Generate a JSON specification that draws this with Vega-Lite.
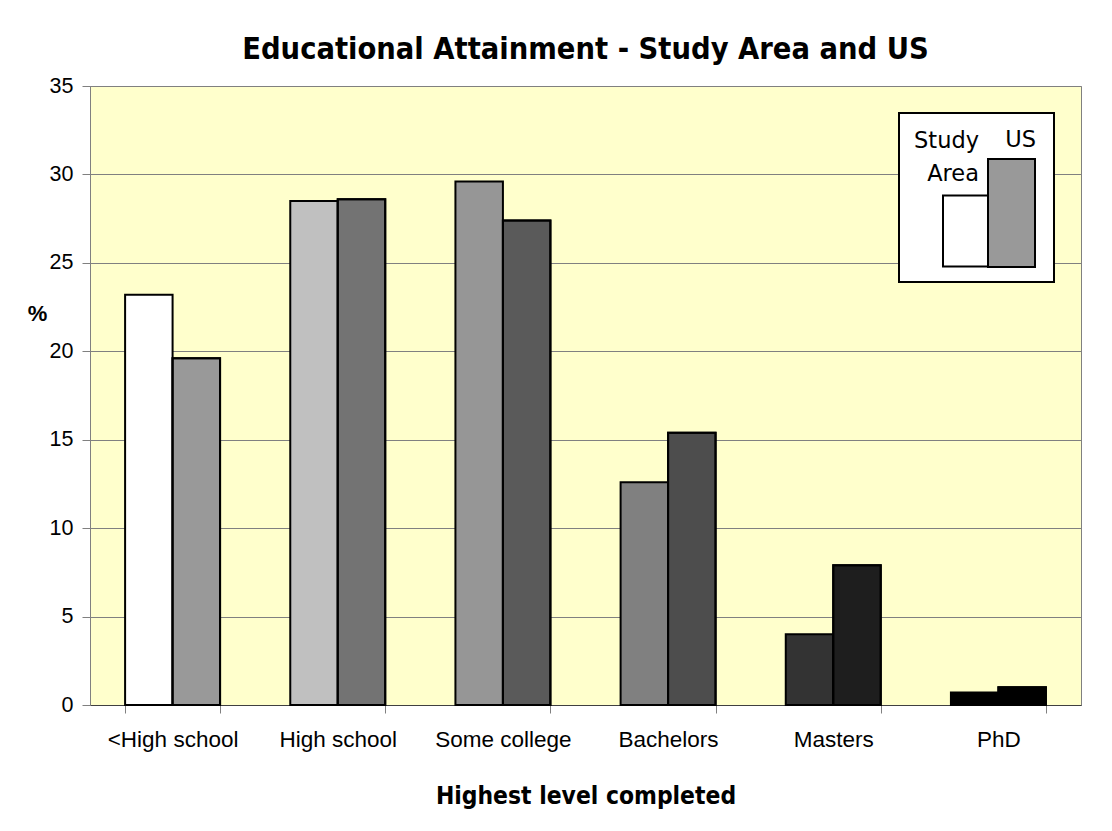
{
  "$schema": "https://vega.github.io/schema/vega-lite/v6.json",
  "width": 991,
  "height": 619,
  "autosize": {"type": "none"},
  "padding": {"left": 90, "top": 86, "right": 31, "bottom": 126},
  "background": "white",
  "title": {
    "text": "Educational Attainment - Study Area and US",
    "font": "DejaVu Sans Condensed, DejaVu Sans",
    "fontSize": 30.5,
    "fontWeight": "bold",
    "color": "black",
    "anchor": "middle",
    "frame": "group",
    "baseline": "alphabetic",
    "offset": -14
  },
  "data": {
    "values": [
      {"level": "<High school", "series": "Study Area", "value": 23.2},
      {"level": "<High school", "series": "US", "value": 19.6},
      {"level": "High school", "series": "Study Area", "value": 28.5},
      {"level": "High school", "series": "US", "value": 28.6},
      {"level": "Some college", "series": "Study Area", "value": 29.6},
      {"level": "Some college", "series": "US", "value": 27.4},
      {"level": "Bachelors", "series": "Study Area", "value": 12.6},
      {"level": "Bachelors", "series": "US", "value": 15.4},
      {"level": "Masters", "series": "Study Area", "value": 4.0},
      {"level": "Masters", "series": "US", "value": 7.9},
      {"level": "PhD", "series": "Study Area", "value": 0.7},
      {"level": "PhD", "series": "US", "value": 1.0}
    ]
  },
  "encoding": {
    "x": {
      "field": "level",
      "type": "nominal",
      "sort": null,
      "title": "Highest level completed",
      "scale": {"paddingInner": 0.425, "paddingOuter": 0.2125},
      "axis": {
        "tickBand": "extent",
        "labelAngle": 0,
        "labelFont": "Liberation Sans",
        "labelFontSize": 22.5,
        "labelColor": "black",
        "labelPadding": 15,
        "tickSize": 8,
        "tickColor": "#808080",
        "domainColor": "#404040",
        "grid": false,
        "titleFont": "DejaVu Sans Condensed, DejaVu Sans",
        "titleFontSize": 24.4,
        "titleFontWeight": "bold",
        "titleColor": "black",
        "titleY": 98,
        "titleBaseline": "alphabetic"
      }
    },
    "xOffset": {
      "field": "series",
      "type": "nominal",
      "scale": {"domain": ["Study Area", "US"], "paddingInner": 0, "paddingOuter": 0}
    },
    "y": {
      "field": "value",
      "type": "quantitative",
      "title": "%",
      "scale": {"domain": [0, 35], "nice": false},
      "axis": {
        "values": [0, 5, 10, 15, 20, 25, 30, 35],
        "grid": true,
        "gridColor": "#808080",
        "gridWidth": 1,
        "domainColor": "#808080",
        "tickColor": "#808080",
        "tickSize": 8,
        "labelFont": "Liberation Sans",
        "labelFontSize": 21.5,
        "labelColor": "black",
        "labelPadding": 9,
        "titleAngle": 0,
        "titleX": -53,
        "titleY": 227,
        "titleAlign": "center",
        "titleBaseline": "middle",
        "titleFont": "Liberation Sans",
        "titleFontSize": 22,
        "titleFontWeight": "bold",
        "titleColor": "black"
      }
    }
  },
  "layer": [
    {
      "mark": {"type": "bar", "stroke": "black", "strokeWidth": 2},
      "encoding": {
        "fill": {
          "field": "level",
          "type": "nominal",
          "scale": {
            "domain": ["<High school", "High school", "Some college", "Bachelors", "Masters", "PhD"],
            "range": ["#ffffff", "#c0c0c0", "#969696", "#808080", "#333333", "#000000"]
          },
          "legend": null
        }
      }
    },
    {
      "transform": [{"filter": "datum.series === 'US'"}],
      "mark": {"type": "bar", "fill": "black", "fillOpacity": 0.4, "stroke": "black", "strokeWidth": 2}
    },
    {
      "mark": {"type": "point", "filled": true, "size": 0, "opacity": 0},
      "encoding": {
        "fill": {
          "field": "series",
          "type": "nominal",
          "scale": {"domain": ["Study Area", "US"], "range": ["#ffffff", "#999999"]},
          "legend": {
            "title": null,
            "orient": "top-right",
            "offset": 27,
            "direction": "horizontal",
            "fillColor": "white",
            "strokeColor": "black",
            "padding": 11,
            "columnPadding": -13,
            "labelFont": "DejaVu Sans",
            "labelFontSize": 22.5,
            "labelColor": "black",
            "labelAlign": "right",
            "labelBaseline": "top",
            "labelLimit": 0,
            "labelExpr": "datum.label === 'Study Area' ? ['Study', 'Area'] : datum.label",
            "symbolSize": 4,
            "symbolStrokeColor": "black",
            "symbolStrokeWidth": 2,
            "encode": {
              "legend": {"update": {"strokeWidth": {"value": 2}}},
              "symbols": {
                "update": {
                  "x": {"signal": "datum.value === 'US' ? 56 : 0"},
                  "y": {"value": 0},
                  "size": {"value": 4},
                  "opacity": {"value": 1},
                  "stroke": {"value": "black"},
                  "strokeWidth": {"value": 2},
                  "shape": {"signal": "datum.value === 'US' ? 'M-60,35H-13V143H-60Z M-9,35' : 'M33,71H78V142H33Z'"}
                }
              },
              "labels": {
                "update": {
                  "x": {"signal": "datum.value === 'US' ? 44 : 69"},
                  "y": {"value": 5},
                  "lineHeight": {"value": 33}
                }
              }
            }
          }
        }
      }
    }
  ],
  "resolve": {"scale": {"fill": "independent"}},
  "config": {
    "view": {"fill": "#ffffcc", "stroke": "#808080", "strokeWidth": 1},
    "font": "Liberation Sans"
  }
}
